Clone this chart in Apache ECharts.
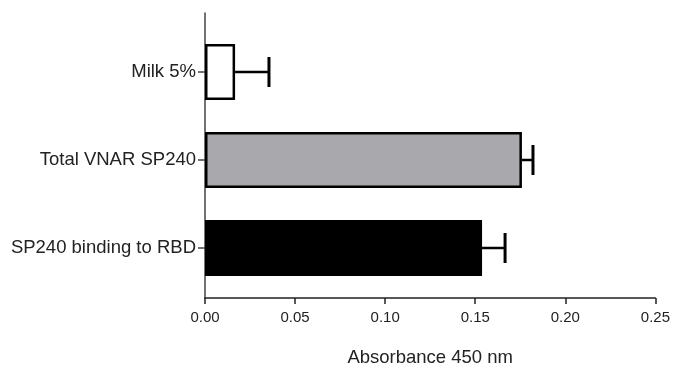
<!DOCTYPE html>
<html><head><meta charset="utf-8">
<script src="https://cdn.jsdelivr.net/npm/echarts@6/dist/echarts.min.js"></script>
<style>html,body{margin:0;padding:0;background:#fff}#c{width:673px;height:372px}</style>
</head><body><div id="c"></div>
<script>
const categories = ['Milk 5%', 'Total VNAR SP240', 'SP240 binding to RBD'];
const values = [0.0166, 0.1749, 0.1529];
const errors = [0.0187, 0.0061, 0.0127];
const xTicks = [0, 0.05, 0.10, 0.15, 0.20, 0.25];
const fills = ['#ffffff', '#a9a9ad', '#000000'];

const font = 'Liberation Sans, Arial, sans-serif';
const chart = echarts.init(document.getElementById('c'));
chart.setOption({
  animation: false,
  grid: [
    {left: 205, right: 15, top: 28, bottom: 80},
    {left: 205, right: 15, top: 13, bottom: 66}
  ],
  xAxis: [
    {gridIndex: 0, type: 'value', min: 0, max: 0.25, show: false},
    {gridIndex: 1, type: 'value', min: 0, max: 0.25, interval: 0.05,
     axisLine: {show: true, onZero: false, lineStyle: {color: '#222', width: 1.5}},
     axisTick: {show: true, length: 6, lineStyle: {color: '#222', width: 1.5}},
     axisLabel: {color: '#222', fontSize: 15, fontFamily: font, margin: 12,
       formatter: v => v.toFixed(2)},
     splitLine: {show: false},
     name: 'Absorbance 450 nm', nameLocation: 'middle', nameGap: 50,
     nameTextStyle: {color: '#222', fontSize: 18.5, fontFamily: font}}
  ],
  yAxis: [
    {gridIndex: 0, type: 'category', data: categories, inverse: true,
     axisLine: {show: false},
     axisTick: {show: true, alignWithLabel: true, length: 7, lineStyle: {color: '#444', width: 1.5}},
     axisLabel: {color: '#222', fontSize: 18.5, fontFamily: font, margin: 9}},
    {gridIndex: 1, type: 'value', min: 0, max: 1,
     axisLine: {show: true, lineStyle: {color: '#444', width: 1.5}},
     axisTick: {show: false}, axisLabel: {show: false}, splitLine: {show: false}}
  ],
  series: [
    {type: 'bar', xAxisIndex: 0, yAxisIndex: 0, barWidth: 56,
     data: values.map((v, i) => ({value: v, itemStyle: {color: fills[i], borderColor: '#000', borderWidth: 2.5}}))},
    {type: 'custom', xAxisIndex: 0, yAxisIndex: 0, z: 5,
     data: values.map((v, i) => [v, i, errors[i]]),
     renderItem: function (params, api) {
       const i = api.value(1);
       const p0 = api.coord([api.value(0), i]);
       const p1 = api.coord([api.value(0) + api.value(2), i]);
       return {type: 'group', children: [
         {type: 'line', shape: {x1: p0[0], y1: p0[1], x2: p1[0], y2: p1[1]}, style: {stroke: '#000', lineWidth: 2.5}},
         {type: 'line', shape: {x1: p1[0], y1: p1[1] - 15, x2: p1[0], y2: p1[1] + 15}, style: {stroke: '#000', lineWidth: 3}}
       ]};
     }}
  ]
});
</script></body></html>
